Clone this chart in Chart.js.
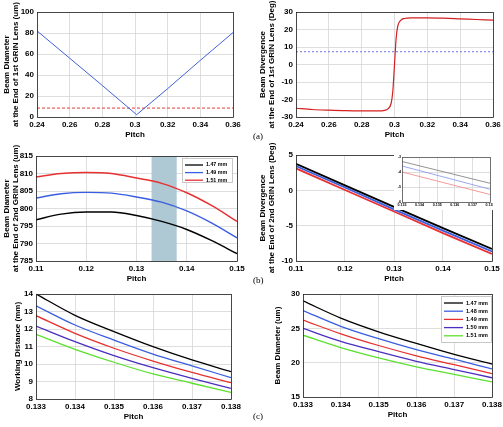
<!DOCTYPE html>
<html>
<head>
<meta charset="utf-8">
<title>GRIN lens pitch</title>
<script src="https://cdn.jsdelivr.net/npm/chart.js@4.4.0/dist/chart.umd.min.js"></script>
<style>
body{margin:0;background:#fff;}
#fig{position:relative;width:503px;height:427px;overflow:hidden;}
#fig canvas{position:absolute;}
.tag{position:absolute;font-family:"Liberation Serif","DejaVu Serif",serif;font-size:9px;color:#000;}
</style>
</head>
<body>
<div id="fig">
<canvas id="c1"></canvas>
<canvas id="c2"></canvas>
<canvas id="c3"></canvas>
<canvas id="c4"></canvas>
<canvas id="c5"></canvas>
<canvas id="c6"></canvas>
<canvas id="c4i"></canvas>
<span class="tag" style="left:253px;top:131px">(a)</span>
<span class="tag" style="left:253px;top:275px">(b)</span>
<span class="tag" style="left:253px;top:411px">(c)</span>
</div>
<script>
// (a) end of 1st GRIN lens
const pitchA = [0.24, 0.26, 0.28, 0.30, 0.301, 0.32, 0.34, 0.36];
const diamA = [82, 56, 30, 3.5, 2.2, 27, 54, 80.4];
const diamLimitA = 8.5;
const pitchA2 = [0.24, 0.25, 0.26, 0.27, 0.28, 0.29, 0.294, 0.296, 0.298, 0.299, 0.300, 0.301, 0.302, 0.304, 0.306, 0.31, 0.32, 0.33, 0.34, 0.35, 0.36];
const divA = [-25.0, -25.7, -26.1, -26.4, -26.5, -26.5, -26.2, -25.4, -22, -15, 0, 15, 22, 25.4, 26.3, 26.7, 26.7, 26.5, 26.1, 25.7, 25.3];
const divLimitA = 7.3;

// (b) end of 2nd GRIN lens
const pitchB = [0.11, 0.115, 0.12, 0.125, 0.13, 0.135, 0.14, 0.145, 0.15];
const diamB147 = [796.8, 798.4, 799.0, 799.0, 798.0, 796.3, 794.0, 790.8, 787.1];
const diamB149 = [803.0, 804.2, 804.6, 804.4, 803.3, 801.8, 799.3, 795.8, 791.6];
const diamB151 = [809.0, 810.0, 810.3, 810.0, 808.7, 807.2, 804.5, 800.8, 796.3];
const windowB = [0.133, 0.138];
const pitchB2 = [0.11, 0.12, 0.13, 0.14, 0.15];
const divB147 = [3.75, 0.7, -2.35, -5.35, -8.3];
const divB149 = [3.45, 0.4, -2.7, -5.7, -8.65];
const divB151 = [3.1, 0.05, -3.0, -6.05, -9.0];
const pitchInset = [0.133, 0.138];
const insetB147 = [-3.3, -4.75];
const insetB149 = [-3.6, -5.15];
const insetB151 = [-4.0, -5.5];

// (c) output
const pitchC = [0.133, 0.134, 0.135, 0.136, 0.137, 0.138];
const wd147 = [14.0, 12.78, 11.85, 10.99, 10.23, 9.56];
const wd148 = [13.33, 12.23, 11.37, 10.57, 9.89, 9.22];
const wd149 = [12.76, 11.75, 10.9, 10.17, 9.52, 8.93];
const wd150 = [12.17, 11.28, 10.48, 9.79, 9.18, 8.61];
const wd151 = [11.7, 10.84, 10.1, 9.43, 8.9, 8.38];
const bd147 = [29.0, 26.5, 24.5, 22.8, 21.2, 19.8];
const bd148 = [27.6, 25.3, 23.5, 21.9, 20.5, 19.1];
const bd149 = [26.2, 24.2, 22.5, 21.0, 19.7, 18.4];
const bd150 = [25.0, 23.1, 21.6, 20.2, 19.0, 17.8];
const bd151 = [24.0, 22.2, 20.7, 19.4, 18.3, 17.2];

const lensLabels = ['1.47 mm', '1.48 mm', '1.49 mm', '1.50 mm', '1.51 mm'];
const lensColors = ['#000000', '#3a5ee0', '#e83030', '#4a2ec0', '#5ce030'];

const FONT = {family: '"Liberation Sans", Arial, sans-serif', size: 8, weight: 'bold', lineHeight: 1.15};

function pts(xs, ys) { return xs.map((x, i) => ({x: x, y: ys[i]})); }
function flat(xs, v) { return [{x: xs[0], y: v}, {x: xs[xs.length - 1], y: v}]; }
function tickFmt(v) { return String(+v.toFixed(3)); }

const boxPlugin = {
  id: 'box',
  beforeDraw(chart, args, o) {
    if (o.white) {
      const c = chart.ctx;
      c.save(); c.fillStyle = '#fff'; c.fillRect(0, 0, chart.width, chart.height); c.restore();
    }
  },
  beforeDatasetsDraw(chart, args, o) {
    if (!o.shade) return;
    const a = chart.chartArea, xs = chart.scales.x, c = chart.ctx;
    const x0 = xs.getPixelForValue(o.shade[0]), x1 = xs.getPixelForValue(o.shade[1]);
    c.save(); c.fillStyle = '#aec8d4'; c.fillRect(x0, a.top, x1 - x0, a.bottom - a.top); c.restore();
  },
  afterDraw(chart, args, o) {
    const a = chart.chartArea, c = chart.ctx;
    c.save();
    c.strokeStyle = o.frame || '#222'; c.lineWidth = 0.8;
    c.strokeRect(Math.round(a.left) + 0.5, Math.round(a.top) + 0.5, Math.round(a.right - a.left), Math.round(a.bottom - a.top));
    if (o.legend) {
      const g = o.legend;
      const items = chart.data.datasets.filter(d => d.label);
      const bx = a.right - g.right - g.w, by = a.top + g.top;
      c.fillStyle = '#fff'; c.fillRect(bx, by, g.w, g.h);
      c.strokeStyle = '#bbb'; c.lineWidth = 0.8; c.strokeRect(bx + 0.5, by + 0.5, g.w, g.h);
      c.font = 'bold ' + g.font + 'px "Liberation Sans", Arial, sans-serif';
      c.textBaseline = 'middle'; c.textAlign = 'left';
      items.forEach((d, i) => {
        const y = by + g.first + i * g.step;
        c.strokeStyle = d.borderColor; c.lineWidth = 1.3;
        c.beginPath(); c.moveTo(bx + g.l0, y); c.lineTo(bx + g.l1, y); c.stroke();
        c.fillStyle = '#000'; c.fillText(d.label, bx + g.tx, y);
      });
    }
    c.restore();
  }
};

function makeChart(id, p) {
  const cv = document.getElementById(id);
  const [cx, cy, W] = p.pos;
  const [L, T, R, B] = p.plot;
  const xh = p.xh != null ? p.xh : 22;
  const H = B + xh - cy;
  cv.width = W; cv.height = H;
  cv.style.left = cx + 'px'; cv.style.top = cy + 'px';
  const yw = L - cx;
  const tf = Object.assign({}, FONT, p.tickSize ? {size: p.tickSize} : {});
  return new Chart(cv, {
    type: 'line',
    data: {datasets: p.datasets},
    plugins: [boxPlugin],
    options: {
      responsive: false,
      animation: false,
      layout: {padding: {left: 0, top: T - cy, right: cx + W - R, bottom: 0}},
      elements: {point: {radius: 0}, line: {borderWidth: 1}},
      plugins: {legend: {display: false}, tooltip: {enabled: false}, box: p.box || {}},
      scales: {
        x: {
          type: 'linear', min: p.x[0], max: p.x[1],
          ticks: {stepSize: p.x[2], callback: tickFmt, font: tf, color: '#000', padding: p.tickPad || 3, maxRotation: 0, autoSkip: false},
          grid: {color: '#d6d6d6', lineWidth: 0.8, drawTicks: false},
          border: {display: false},
          title: {display: !!p.xTitle, text: p.xTitle, font: FONT, color: '#000', padding: 0},
          afterFit(s) { s.height = xh; s.paddingLeft = 0; s.paddingRight = 0; }
        },
        y: {
          min: p.y[0], max: p.y[1],
          ticks: {stepSize: p.y[2], font: tf, color: '#000', padding: p.tickPad || 3, autoSkip: false},
          grid: {color: '#d6d6d6', lineWidth: 0.8, drawTicks: false},
          border: {display: false},
          title: {display: !!p.yTitle, text: p.yTitle, font: FONT, color: '#000', padding: {top: p.titlePad || 0, bottom: 0}},
          afterFit(s) { s.width = yw; s.paddingTop = 0; s.paddingBottom = 0; }
        }
      }
    }
  });
}

function line(data, color, width, extra) {
  return Object.assign({data: data, borderColor: color, borderWidth: width, fill: false, tension: 0}, extra || {});
}
const smooth = {cubicInterpolationMode: 'monotone'};

makeChart('c1', {
  pos: [0, 0, 250], plot: [37, 12, 233, 117],
  x: [0.24, 0.36, 0.02], y: [0, 100, 20],
  xTitle: 'Pitch', yTitle: ['Beam Diameter', 'at the End of 1st GRIN Lens (um)'], titlePad: 2.4,
  datasets: [
    line(pts(pitchA, diamA), '#4060d8', 1),
    line(flat(pitchA, diamLimitA), '#e03c3c', 1, {borderDash: [3, 2]})
  ]
});

makeChart('c2', {
  pos: [250, 0, 253], plot: [296, 12, 493, 117],
  x: [0.24, 0.36, 0.02], y: [-30, 30, 10],
  xTitle: 'Pitch', yTitle: ['Beam Divergence', 'at the End of 1st GRIN Lens (Deg)'], titlePad: 8.4,
  datasets: [
    line(pts(pitchA2, divA), '#d42020', 1.2, smooth),
    line(flat(pitchA2, divLimitA), '#6a78e0', 1, {borderDash: [2, 2]})
  ]
});

makeChart('c3', {
  pos: [0, 138, 250], plot: [36, 156, 237, 261],
  x: [0.11, 0.15, 0.01], y: [785, 815, 5],
  xTitle: 'Pitch', yTitle: ['Beam Diameter', 'at the End of 2nd GRIN Lens (um)'], titlePad: 2.4,
  box: {shade: windowB, legend: {right: 5, top: 2, w: 50, h: 24, first: 7, step: 7.6, l0: 3, l1: 21, tx: 24, font: 5.3}},
  datasets: [
    line(pts(pitchB, diamB147), lensColors[0], 1.4, Object.assign({label: lensLabels[0]}, smooth)),
    line(pts(pitchB, diamB149), lensColors[1], 1.4, Object.assign({label: lensLabels[2]}, smooth)),
    line(pts(pitchB, diamB151), lensColors[2], 1.4, Object.assign({label: lensLabels[4]}, smooth))
  ]
});

makeChart('c4', {
  pos: [250, 138, 253], plot: [296, 155, 492, 261],
  x: [0.11, 0.15, 0.01], y: [-10, 5, 5],
  xTitle: 'Pitch', yTitle: ['Beam Divergence', 'at the End of 2nd GRIN Lens (Deg)'], titlePad: 8.4,
  datasets: [
    line(pts(pitchB2, divB147), lensColors[0], 1.8),
    line(pts(pitchB2, divB149), lensColors[1], 1.8),
    line(pts(pitchB2, divB151), lensColors[2], 1.8)
  ]
});

makeChart('c4i', {
  pos: [394, 152, 99], plot: [402, 157, 490, 202], xh: 8,
  x: [0.133, 0.138, 0.001], y: [-6, -3, 1], tickSize: 3.6, tickPad: 1,
  box: {white: true, frame: '#555'},
  datasets: [
    line(pts(pitchInset, insetB147), '#777777', 0.8),
    line(pts(pitchInset, insetB149), '#8090f0', 0.8),
    line(pts(pitchInset, insetB151), '#f08080', 0.8)
  ]
});

makeChart('c5', {
  pos: [0, 280, 250], plot: [36, 294, 231, 399],
  x: [0.133, 0.138, 0.001], y: [8, 14, 1],
  xTitle: 'Pitch', yTitle: 'Working Distance (mm)', titlePad: 13.4,
  datasets: [wd147, wd148, wd149, wd150, wd151].map((d, i) => line(pts(pitchC, d), lensColors[i], 1.3, smooth))
});

makeChart('c6', {
  pos: [250, 280, 253], plot: [303, 294, 492, 397],
  x: [0.133, 0.138, 0.001], y: [15, 30, 5],
  xTitle: 'Pitch', yTitle: 'Beam Diameter (um)', titlePad: 23.4,
  box: {legend: {right: 1, top: 2, w: 50, h: 46, first: 7, step: 8.2, l0: 3, l1: 22, tx: 25, font: 5.5}},
  datasets: [bd147, bd148, bd149, bd150, bd151].map((d, i) => line(pts(pitchC, d), lensColors[i], 1.3, Object.assign({label: lensLabels[i]}, smooth)))
});
</script>
</body>
</html>
